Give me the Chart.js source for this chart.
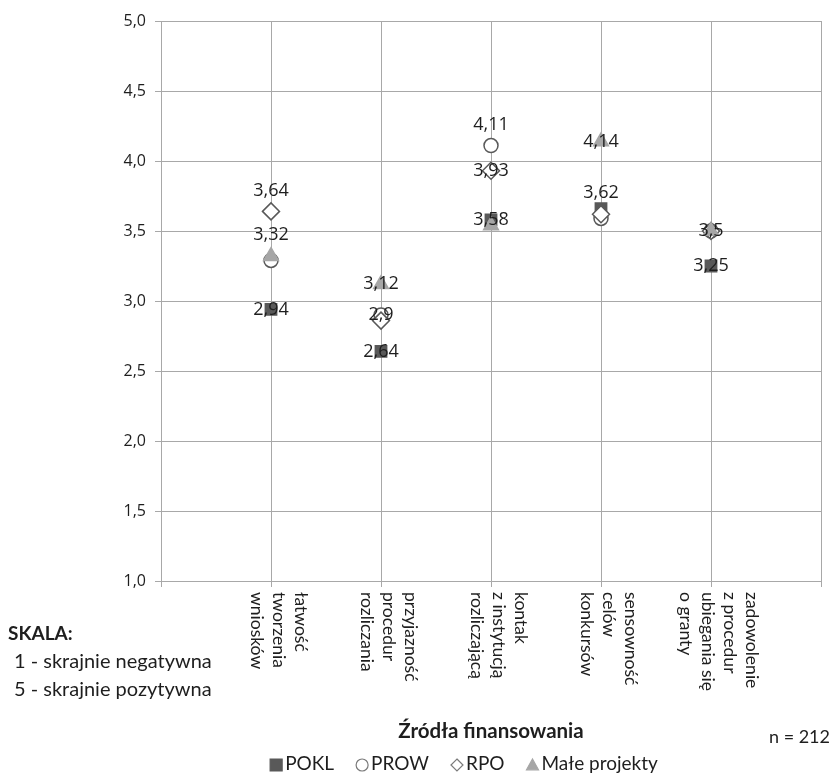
<!DOCTYPE html>
<html lang="pl">
<head>
<meta charset="utf-8">
<script src="https://cdn.jsdelivr.net/npm/chart.js@4.4.1/dist/chart.umd.min.js"></script>
<style>
  html, body { margin: 0; padding: 0; background: #ffffff; }
  #wrap { width: 833px; height: 778px; position: relative; }
</style>
</head>
<body>
<div id="wrap"><canvas id="chart" width="833" height="778"></canvas></div>
<script>
// Oceny (skala 1–5) dla pięciu aspektów, w podziale na źródła finansowania
const categories = [
  ['łatwość', 'tworzenia', 'wniosków'],
  ['przyjazność', 'procedur', 'rozliczania'],
  ['kontak', 'z instytucją', 'rozliczającą'],
  ['sensowność', 'celów', 'konkursów'],
  ['zadowolenie', 'z procedur', 'ubiegania się', 'o granty']
];
const seriesNames = ['POKL', 'PROW', 'RPO', 'Małe projekty'];
const pokl = [2.94, 2.64, 3.58, 3.66, 3.25];
const prow = [3.29, 2.90, 4.11, 3.59, 3.50];
const rpo  = [3.64, 2.86, 3.93, 3.62, 3.50];
const male = [3.32, 3.12, 3.54, 4.14, 3.50];
const yTickMin = 1.0;
const yTickMax = 5.0;
const yTickStep = 0.5;

// Etykiety wartości: [indeks serii, indeks kategorii, położenie]
const valueLabels = [
  [2, 0, 'above'], [3, 0, 'above'], [0, 0, 'center'],
  [3, 1, 'center'], [1, 1, 'center'], [0, 1, 'center'],
  [1, 2, 'above'], [2, 2, 'center'], [0, 2, 'center'],
  [3, 3, 'center'], [2, 3, 'above'],
  [3, 4, 'center'], [0, 4, 'center']
];

const allSeries = [pokl, prow, rpo, male];
const fmt = v => String(v).replace('.', ',');
const DARK = '#595959';
const LIGHT = '#a6a6a6';
const TEXT = '#1e1e1e';
const GRID = '#a8a8a8';

const styles = [
  { pointStyle: 'rect',     radius: 8,   bg: DARK,   border: DARK,  order: 4 },
  { pointStyle: 'circle',   radius: 7,   bg: '#fff', border: DARK,  order: 3 },
  { pointStyle: 'rectRot',  radius: 8.5, bg: '#fff', border: DARK,  order: 2 },
  { pointStyle: 'triangle', radius: 8.5, bg: LIGHT,  border: LIGHT, order: 1 }
];

const datasets = allSeries.map((vals, s) => ({
  label: seriesNames[s],
  data: vals.map((v, i) => ({ x: i + 1, y: v })),
  showLine: false,
  pointStyle: styles[s].pointStyle,
  pointRadius: styles[s].radius,
  pointHoverRadius: styles[s].radius,
  backgroundColor: styles[s].bg,
  borderColor: styles[s].border,
  pointBorderWidth: 1.5,
  order: styles[s].order
}));

function drawMarker(ctx, kind, x, y, size, fill, stroke) {
  ctx.save();
  ctx.beginPath();
  const h = size / 2;
  if (kind === 'rect') {
    ctx.rect(x - h, y - h, size, size);
  } else if (kind === 'circle') {
    ctx.arc(x, y, h, 0, Math.PI * 2);
  } else if (kind === 'rectRot') {
    ctx.moveTo(x, y - h); ctx.lineTo(x + h, y); ctx.lineTo(x, y + h); ctx.lineTo(x - h, y); ctx.closePath();
  } else {
    ctx.moveTo(x, y - h); ctx.lineTo(x + h, y + h * 0.8); ctx.lineTo(x - h, y + h * 0.8); ctx.closePath();
  }
  ctx.fillStyle = fill; ctx.fill();
  ctx.lineWidth = 1.2; ctx.strokeStyle = stroke; ctx.stroke();
  ctx.restore();
}

const decorations = {
  id: 'decorations',
  afterDatasetsDraw(chart) {
    const ctx = chart.ctx;
    const xs = chart.scales.x;
    const ys = chart.scales.y;
    ctx.save();

    // Etykiety wartości
    ctx.font = '18px "Open Sans", sans-serif';
    ctx.fillStyle = TEXT;
    ctx.textAlign = 'center';
    ctx.textBaseline = 'middle';
    valueLabels.forEach(([s, i, pos]) => {
      const v = allSeries[s][i];
      const px = xs.getPixelForValue(i + 1);
      const py = ys.getPixelForValue(v) - (pos === 'above' ? 21 : 0);
      ctx.fillText(fmt(v), px, py);
    });

    // Nazwy kategorii, obrócone w pionie
    ctx.font = '17.5px Lato, sans-serif';
    ctx.textAlign = 'left';
    ctx.textBaseline = 'middle';
    const lineGap = 22;
    categories.forEach((lines, i) => {
      const cx = xs.getPixelForValue(i + 1) + 8;
      const n = lines.length;
      lines.forEach((line, k) => {
        const lx = cx + ((n - 1) / 2 - k) * lineGap;
        ctx.save();
        ctx.translate(lx, chart.chartArea.bottom + 11);
        ctx.rotate(Math.PI / 2);
        ctx.fillText(line, 0, 0);
        ctx.restore();
      });
    });

    // Opis skali
    ctx.textAlign = 'left';
    ctx.fillStyle = TEXT;
    ctx.font = 'bold 19px Lato, sans-serif';
    ctx.fillText('SKALA:', 8, 634);
    ctx.font = '20px Lato, sans-serif';
    ctx.fillText('1 - skrajnie negatywna', 14, 662);
    ctx.fillText('5 - skrajnie pozytywna', 14, 690);

    // Tytuł osi X i liczebność próby
    ctx.textAlign = 'center';
    ctx.font = 'bold 20.5px Lato, sans-serif';
    ctx.fillText('Źródła finansowania', (chart.chartArea.left + chart.chartArea.right) / 2, 731);
    ctx.textAlign = 'right';
    ctx.font = '18px Lato, sans-serif';
    ctx.fillText('n = 212', 830, 737);

    // Legenda
    ctx.textAlign = 'left';
    ctx.font = '19px Lato, sans-serif';
    const legendY = 764;
    const kinds = ['rect', 'circle', 'rectRot', 'triangle'];
    const fills = [DARK, '#fff', '#fff', LIGHT];
    const strokes = [DARK, '#7a7a7a', '#7a7a7a', LIGHT];
    const gap = 22;
    let widths = seriesNames.map(n => ctx.measureText(n).width + 15);
    let total = widths.reduce((a, b) => a + b, 0) + gap * (seriesNames.length - 1);
    let lx = 464 - total / 2;
    seriesNames.forEach((name, s) => {
      drawMarker(ctx, kinds[s], lx + 6, legendY + 1, 12, fills[s], strokes[s]);
      ctx.fillStyle = TEXT;
      ctx.fillText(name, lx + 15, legendY);
      lx += widths[s] + gap;
    });

    ctx.restore();
  }
};

new Chart(document.getElementById('chart'), {
  type: 'scatter',
  data: { datasets },
  options: {
    responsive: false,
    animation: false,
    events: [],
    layout: { padding: { top: 21, right: 12, left: 0, bottom: 0 } },
    plugins: { legend: { display: false }, tooltip: { enabled: false } },
    scales: {
      x: {
        type: 'linear',
        min: 0,
        max: 6,
        ticks: { display: false, stepSize: 1 },
        grid: { color: GRID, lineWidth: 1, drawTicks: true, tickLength: 6 },
        border: { color: GRID },
        afterFit: s => { s.height = 197; }
      },
      y: {
        type: 'linear',
        min: yTickMin,
        max: yTickMax,
        ticks: {
          stepSize: yTickStep,
          padding: 9,
          color: TEXT,
          font: { family: '"Open Sans", sans-serif', size: 16 },
          callback: v => v.toFixed(1).replace('.', ',')
        },
        grid: { color: GRID, lineWidth: 1, drawTicks: true, tickLength: 6 },
        border: { color: GRID },
        afterFit: s => { s.width = 161; }
      }
    }
  },
  plugins: [decorations]
});
</script>
</body>
</html>
